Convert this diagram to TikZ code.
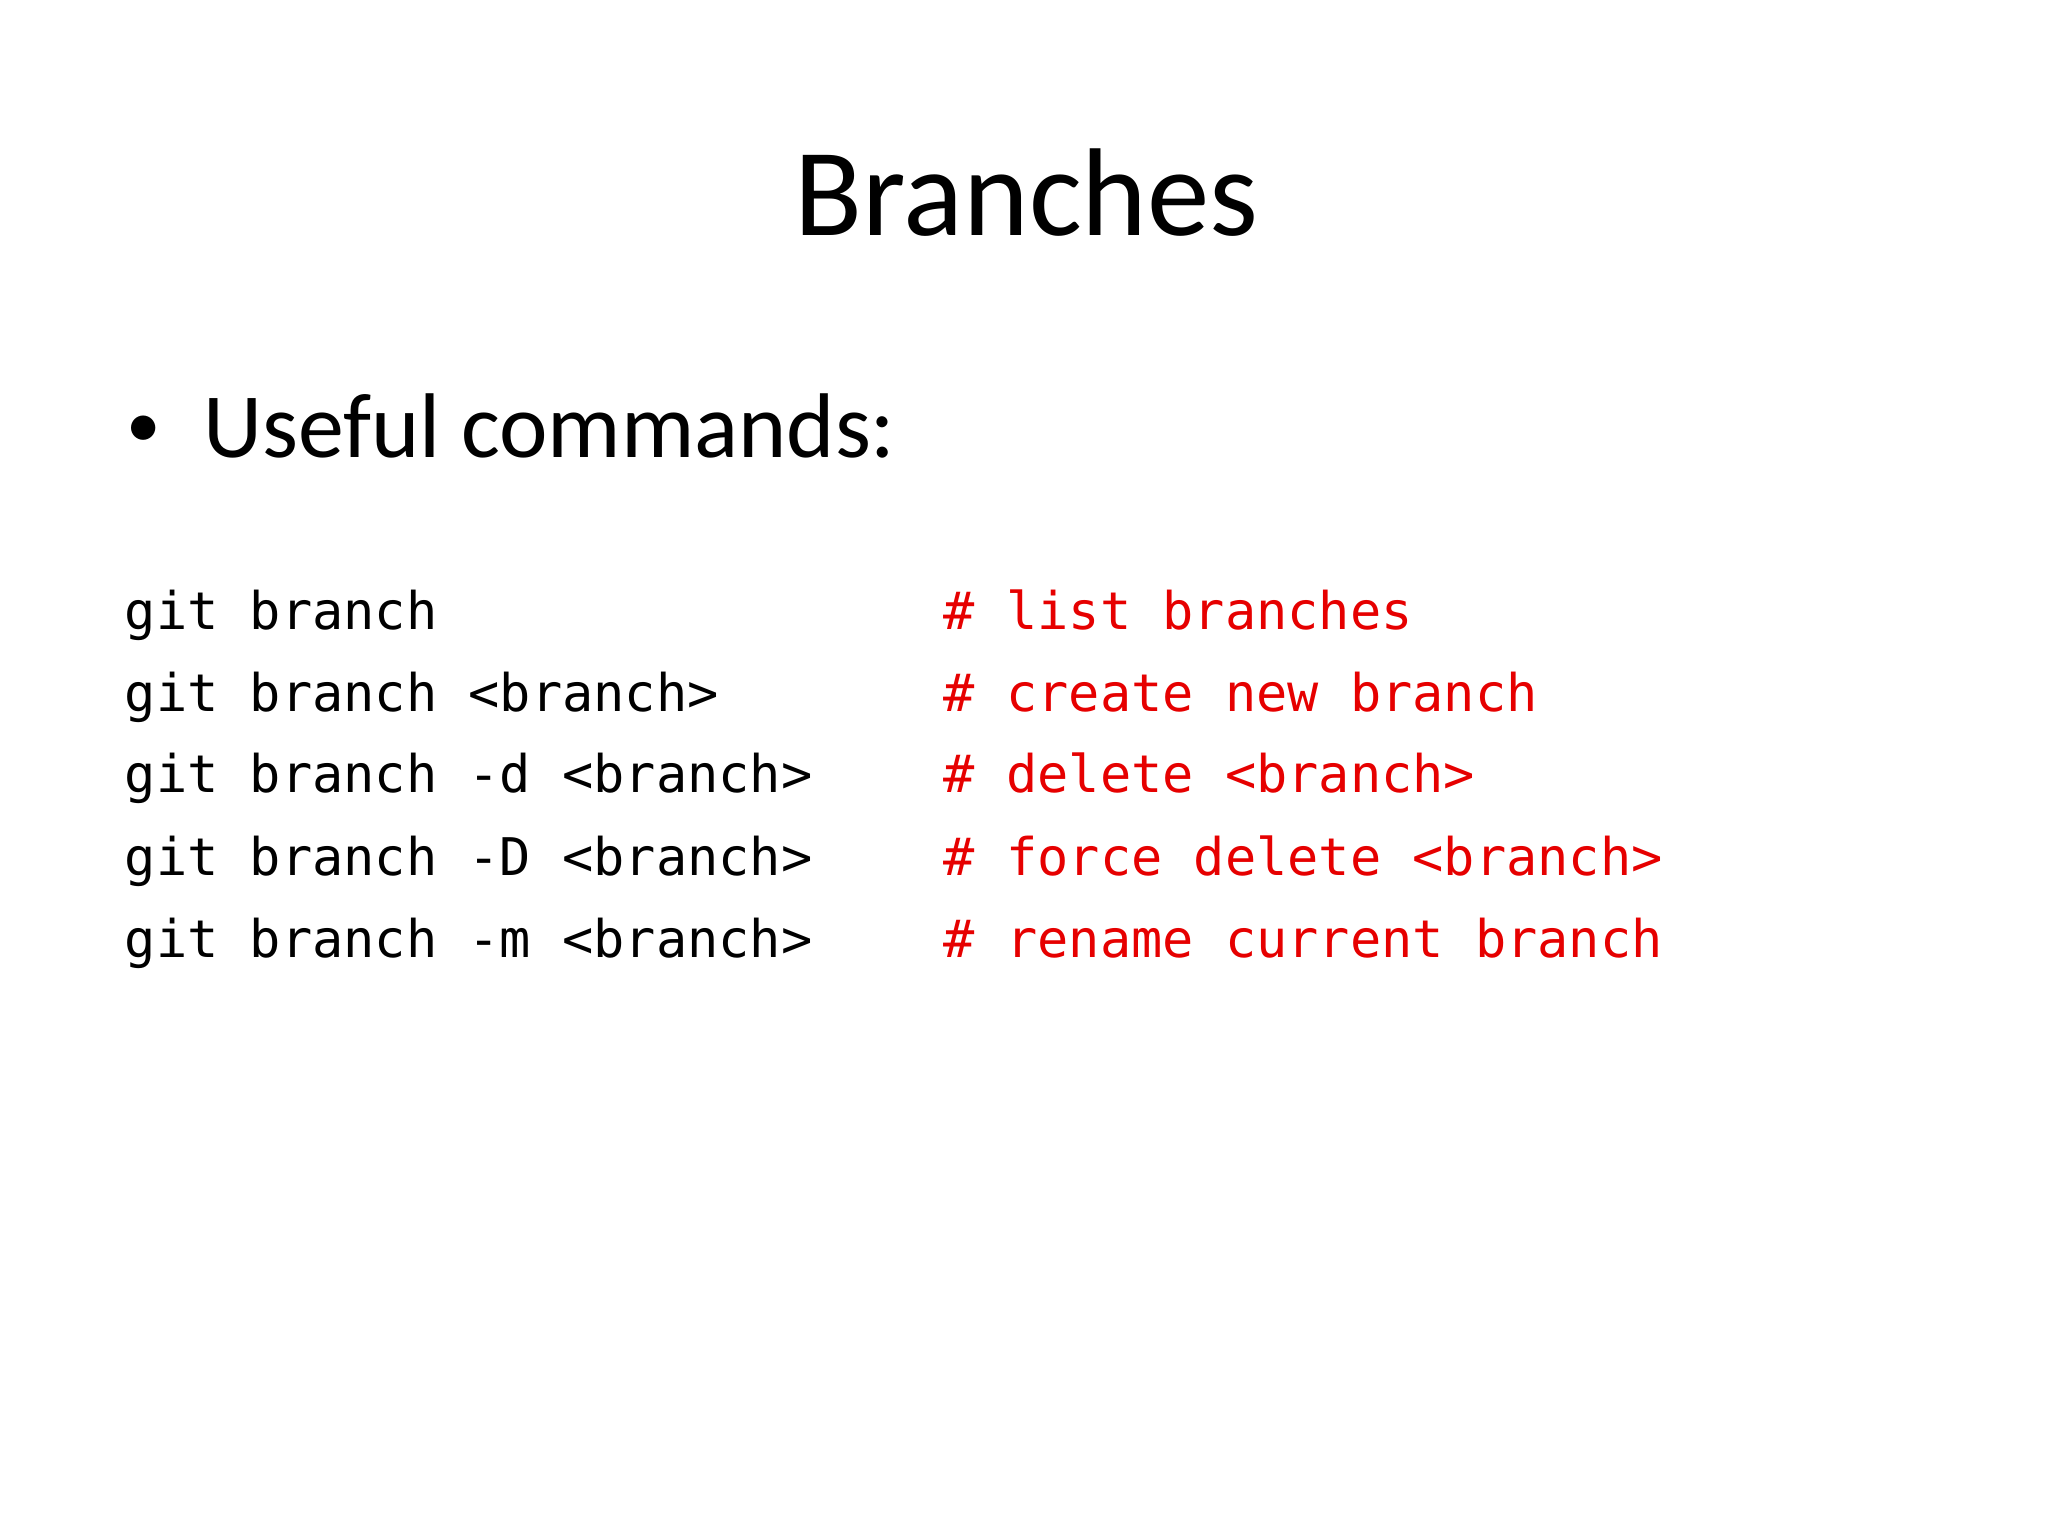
\documentclass[tikz,border=0pt]{standalone}
\usepackage{fontspec}
\setmainfont{Carlito}
\setmonofont{DejaVu Sans Mono}
\begin{document}
\begin{tikzpicture}[x=0.01cm,y=-0.01cm,
  code/.style={anchor=base west,inner sep=0,font=\fontsize{11.3}{13}\selectfont\ttfamily},
  cmt/.style={code,text={rgb,255:red,230;green,0;blue,0}}]
\useasboundingbox[fill=white] (0,0) rectangle (1568,1176);
\node[anchor=base,inner sep=0,font=\fontsize{27.2}{32}\selectfont] (title) at (786,180) {Branches};
\node[anchor=base west,inner sep=0,font=\fontsize{15}{18}\selectfont] (bul) at (96,343) {•};
\node[anchor=base west,inner sep=0,font=\fontsize{20}{24}\selectfont] (use) at (155,350) {Useful commands:};
\node[code] (c1) at (95,482) {git branch};
\node[code] (c2) at (95,545) {git branch <branch>};
\node[code] (c3) at (95,607) {git branch -d <branch>};
\node[code] (c4) at (95,670) {git branch -D <branch>};
\node[code] (c5) at (95,733) {git branch -m <branch>};
\node[cmt] (m1) at (722,482) {\# list branches};
\node[cmt] (m2) at (722,545) {\# create new branch};
\node[cmt] (m3) at (722,607) {\# delete <branch>};
\node[cmt] (m4) at (722,670) {\# force delete <branch>};
\node[cmt] (m5) at (722,733) {\# rename current branch};
\end{tikzpicture}
\end{document}
